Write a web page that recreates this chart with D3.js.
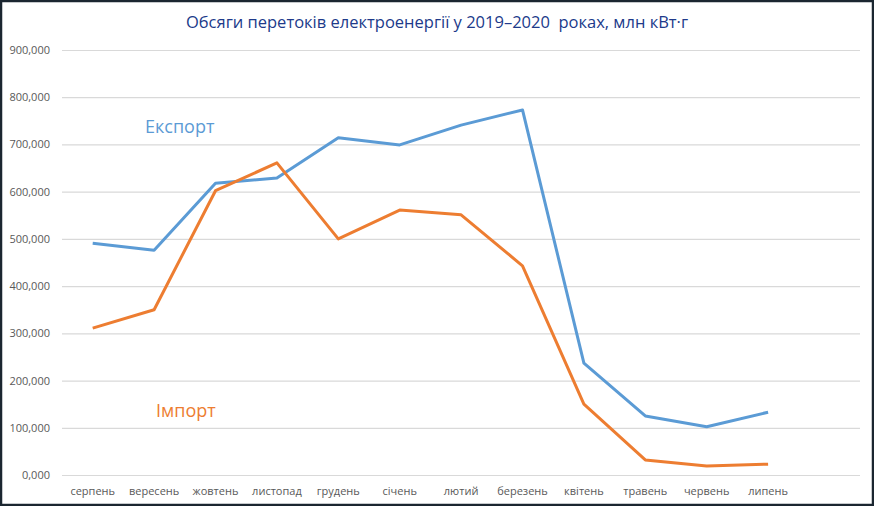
<!DOCTYPE html>
<meta charset="utf-8">
<script src="https://d3js.org/d3.v7.min.js"></script>
<style>
body{margin:0;background:#fff;}
.domain{stroke:none}
.tick line{stroke:#d9d9d9}
</style>
<body>
<div id="chart"></div>
<script>
var months=["серпень","вересень","жовтень","листопад","грудень","січень","лютий","березень","квітень","травень","червень","липень"];
var exportVals=[491,476,618,629,714,699,741,773,237,125,102,133];
var importVals=[311,350,602,661,500,561,551,443,150,32,19,23];
var yTicks=[0,100,200,300,400,500,600,700,800,900];

var W=874,H=506;
var svg=d3.select("#chart").append("svg")
    .attr("width",W)
    .attr("height",H);

svg.append("rect")
    .attr("x",1).attr("y",1)
    .attr("width",W-2).attr("height",H-2)
    .attr("fill","#fff")
    .attr("stroke","#1b2630")
    .attr("stroke-width",2.5);

var x=d3.scaleBand().domain(months).range([62,62+12*61.4]);
var y=d3.scaleLinear().domain([0,900]).range([475,50]);

// grid + y labels
var yAxis=d3.axisLeft(y).tickValues(yTicks)
    .tickSize(-(860-62))
    .tickPadding(12)
    .tickFormat(function(d){return d3.format(".3f")(d).replace(".",",");});
var gy=svg.append("g")
    .attr("transform","translate(62,0)")
    .call(yAxis);
gy.selectAll(".tick line").attr("stroke","#d9d9d9").attr("stroke-width",1.2);
gy.selectAll("text")
    .attr("fill","#595959")
    .style("font-family","'Open Sans', sans-serif")
    .style("font-size","11px");

var xAxis=d3.axisBottom(x).tickSize(0).tickPadding(12);
var gx=svg.append("g")
    .attr("transform","translate(0,475)")
    .call(xAxis);
gx.selectAll("text")
    .attr("fill","#595959")
    .style("font-family","'Open Sans', sans-serif")
    .style("font-size","11px");

var line=d3.line()
    .x(function(d,i){return x(months[i])+x.bandwidth()/2;})
    .y(function(d){return y(d);});

svg.append("path")
    .datum(exportVals)
    .attr("fill","none")
    .attr("stroke","#5B9BD5")
    .attr("stroke-width",3)
    .attr("stroke-linejoin","round")
    .attr("d",line);

svg.append("path")
    .datum(importVals)
    .attr("fill","none")
    .attr("stroke","#ED7D31")
    .attr("stroke-width",3)
    .attr("stroke-linejoin","round")
    .attr("d",line);

svg.append("text")
    .attr("x",437).attr("y",28)
    .attr("text-anchor","middle")
    .attr("fill","#203A8A")
    .style("font-family","'Open Sans', sans-serif")
    .style("font-size","16.5px")
    .style("white-space","pre")
    .text("Обсяги перетоків електроенергії у 2019–2020  роках, млн кВт·г");

svg.append("text")
    .attr("x",145).attr("y",133)
    .attr("fill","#5B9BD5")
    .style("font-family","'Open Sans', sans-serif")
    .style("font-size","18px")
    .text("Експорт");

svg.append("text")
    .attr("x",156).attr("y",417)
    .attr("fill","#ED7D31")
    .style("font-family","'Open Sans', sans-serif")
    .style("font-size","18px")
    .text("Імпорт");
</script>
</body>
</html>
